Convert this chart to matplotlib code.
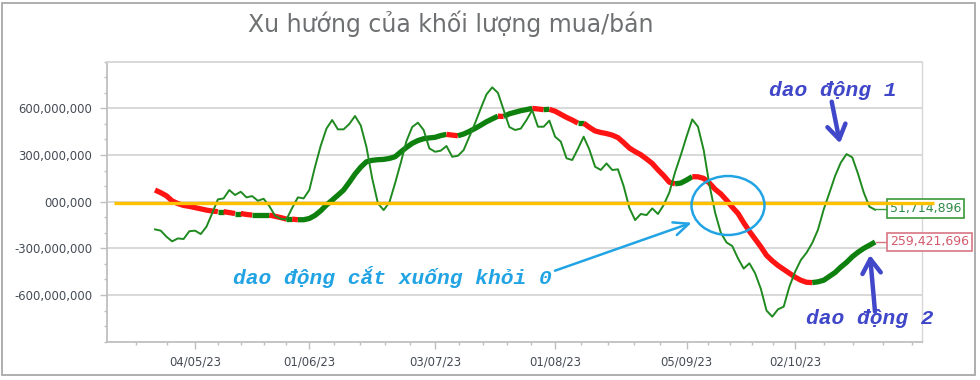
import numpy as np
import matplotlib
matplotlib.use("Agg")
import matplotlib.pyplot as plt
from matplotlib.patches import Ellipse, Rectangle
from matplotlib.lines import Line2D

# ---------------- data ----------------
title = "Xu hướng của khối lượng mua/bán"
tick_pos = [7, 27, 49, 70, 93, 112]
tick_labels = ["04/05/23", "01/06/23", "03/07/23", "01/08/23", "05/09/23", "02/10/23"]
y_ticks = [-600e6, -300e6, 0, 300e6, 600e6]
y_tick_labels = ["-600,000,000", "-300,000,000", "000,000", "300,000,000", "600,000,000"]

# oscillator (thin green), millions
oscillator_m = [
    -178, -186, -225, -255, -236, -240, -190, -186, -208, -161,
    -75, 15, 21, 75, 43, 64, 28, 36, 6, 19,
    -28, -90, -110, -114, -40, 28, 21, 75, 225, 360,
    470, 525, 465, 465, 500, 551, 490, 351, 150, -10,
    -54, -5, 118, 250, 390, 480, 508, 461, 343, 321,
    328, 358, 289, 295, 332, 418, 505, 600, 690, 735,
    700, 590, 480, 461, 470, 525, 589, 482, 482, 521,
    418, 386, 279, 268, 340, 418, 335, 225, 204, 246,
    204, 208, 100, -40, -118, -79, -86, -43, -79, -21,
    60, 190, 300, 418, 529, 482, 332, 110, -70, -200,
    -262, -285, -364, -430, -396, -460, -560, -700, -739, -692,
    -675, -546, -450, -375, -328, -265, -180, -50, 57, 166,
    252, 306, 285, 180, 60, -32, -52,
]
# trend (thick, coloured by direction), millions
trend_m = [
    75, 58, 38, 5, -12, -24, -30, -38, -46, -54,
    -60, -64, -64, -70, -76, -76, -82, -86, -86, -86,
    -86, -94, -102, -112, -112, -116, -116, -108, -88, -58,
    -21, 10, 42, 75, 125, 178, 222, 257, 266, 270,
    272, 278, 289, 320, 349, 375, 393, 405, 410, 414,
    425, 433, 428, 424, 435, 452, 471, 492, 514, 532,
    550, 548, 565, 575, 585, 592, 600, 596, 592, 594,
    582, 562, 542, 525, 505, 505, 478, 455, 445, 438,
    428, 412, 380, 345, 322, 302, 275, 246, 205, 168,
    125, 115, 120, 139, 161, 160, 150, 120, 80, 50,
    10, -35, -75, -135, -190, -240, -290, -345, -380, -410,
    -435, -460, -485, -505, -518, -520, -515, -505, -480, -455,
    -420, -390, -354, -325, -300, -280, -259,
]
last_osc_label = "51,714,896"
last_trend_label = "259,421,696"

# ---------------- styling ----------------
W, H = 980, 380
THIN_GREEN = "#1f8a1f"
THICK_GREEN = "#0d800d"
RED = "#ff1414"
YELLOW = "#ffc000"
LBLUE = "#22a4e4"
INDIGO = "#4047c8"
GRID = "#d6d6d6"
TICKC = "#bfbfbf"
LABELC = "#454b55"

def fx(px):
    return px / W

def fy(py):
    return 1 - py / H

fig = plt.figure(figsize=(W / 100, H / 100), dpi=100)
fig.patch.set_facecolor("white")

top_px, bot_px, left_px, right_px = 61.7, 341.7, 107, 922
ax = fig.add_axes([fx(left_px), fy(bot_px), (right_px - left_px) / W, (bot_px - top_px) / H])

x = np.arange(len(oscillator_m))
osc = np.array(oscillator_m) * 1e6
trend = np.array(trend_m) * 1e6

# thick trend line coloured by direction
rising = np.diff(trend) >= 0
start = 0
n = len(rising)
for k in range(1, n + 1):
    if k == n or rising[k] != rising[start]:
        seg = slice(start, k + 1)
        ax.plot(x[seg], trend[seg], color=THICK_GREEN if rising[start] else RED,
                lw=3.8, solid_capstyle="butt", solid_joinstyle="round", zorder=3)
        start = k

# thin oscillator line
ax.plot(x, osc, color=THIN_GREEN, lw=1.4, zorder=4, solid_joinstyle="round")

ax.set_xlim(-8.4, 134.2)
ax.set_ylim(-900e6, 900e6)

ax.set_yticks(y_ticks)
ax.set_yticklabels(y_tick_labels)
ax.set_yticks(np.arange(-900e6, 900e6 + 1, 100e6), minor=True)
ax.set_xticks(tick_pos)
ax.set_xticklabels(tick_labels)
minor_x = [-3.3, 2.1]
for a, b in zip(tick_pos[:-1], tick_pos[1:]):
    minor_x += list(np.linspace(a, b, 6)[1:-1])
minor_x += [117.1, 122.2, 127.3, 132.4]
ax.set_xticks(minor_x, minor=True)

ax.yaxis.grid(True, which="major", color=GRID, lw=1.3, zorder=0)
ax.set_axisbelow(True)
ax.tick_params(axis="both", which="major", direction="out", length=5, width=1,
               color=TICKC, labelcolor=LABELC, labelsize=8.4)
ax.tick_params(axis="both", which="minor", direction="out", length=2.5, width=1, color=TICKC)
ax.tick_params(axis="y", which="major", pad=5.5)
ax.tick_params(axis="x", which="major", pad=5)
for lab in ax.get_xticklabels() + ax.get_yticklabels():
    lab.set_family("DejaVu Sans")

for s in ["left", "bottom"]:
    ax.spines[s].set_color(TICKC)
    ax.spines[s].set_linewidth(1.3)
ax.spines["top"].set_color(GRID)
ax.spines["top"].set_linewidth(1.3)
ax.spines["right"].set_color(GRID)
ax.spines["right"].set_linewidth(1.0)

# title
fig.text(fx(451), fy(32), title, ha="center", va="baseline", fontsize=17,
         color="#6e7072", family="DejaVu Sans")

# value labels at the end of the series
fig.add_artist(Line2D([fx(875), fx(887)], [fy(208.5), fy(208.5)], color="#3a9a3a", lw=1.0, zorder=2))
fig.add_artist(Line2D([fx(876), fx(887)], [fy(242), fy(242)], color="#d87583", lw=1.0, zorder=2))
fig.text(fx(890), fy(208.5), last_osc_label, ha="left", va="center", fontsize=9,
         color="#2f8a45", family="DejaVu Sans", zorder=3,
         bbox=dict(boxstyle="square,pad=0.22", fc="white", ec="#3a9a3a", lw=1.2))
fig.text(fx(890), fy(242), last_trend_label, ha="left", va="center", fontsize=9,
         color="#d25a6c", family="DejaVu Sans", zorder=3,
         bbox=dict(boxstyle="square,pad=0.22", fc="white", ec="#d87583", lw=1.2))

# hand drawn yellow zero line
fig.add_artist(Line2D([fx(114), fx(934)], [fy(203), fy(203)], color=YELLOW, lw=2.4,
                      solid_capstyle="butt", zorder=5))

mono = ["Liberation Mono", "DejaVu Sans Mono"]
# light blue annotation
fig.text(fx(232.7), fy(277), "dao động cắt xuống khỏi 0", ha="left", va="center",
         fontsize=15.3, fontweight="bold", fontstyle="italic", family=mono, color=LBLUE, zorder=6)
ax.annotate("", xy=(691.7, H - 222.7), xycoords="figure pixels",
            xytext=(555, H - 270.7), textcoords="figure pixels",
            arrowprops=dict(arrowstyle="->,head_length=0.9,head_width=0.4", lw=1.8,
                            color=LBLUE, shrinkA=0, shrinkB=0, mutation_scale=12),
            zorder=6)
fig.add_artist(Ellipse((fx(728), fy(205.5)), 73 / W, 59 / H, transform=fig.transFigure,
                       fill=False, ec=LBLUE, lw=1.8, zorder=6))

# indigo annotations
fig.text(fx(769.3), fy(90), "dao động 1", ha="left", va="center",
         fontsize=15.3, fontweight="bold", fontstyle="italic", family=mono, color=INDIGO, zorder=6)
ax.annotate("", xy=(840, H - 143.3), xycoords="figure pixels",
            xytext=(831.7, H - 101.7), textcoords="figure pixels",
            arrowprops=dict(arrowstyle="->,head_length=0.85,head_width=0.55", lw=3.2,
                            color=INDIGO, shrinkA=0, shrinkB=0, mutation_scale=12),
            zorder=6)
fig.text(fx(806), fy(318), "dao động 2", ha="left", va="center",
         fontsize=15.3, fontweight="bold", fontstyle="italic", family=mono, color=INDIGO, zorder=6)
ax.annotate("", xy=(870, H - 255), xycoords="figure pixels",
            xytext=(875, H - 311.7), textcoords="figure pixels",
            arrowprops=dict(arrowstyle="->,head_length=0.85,head_width=0.55", lw=3.2,
                            color=INDIGO, shrinkA=0, shrinkB=0, mutation_scale=12),
            zorder=6)

# outer chart frame
fig.add_artist(Rectangle((fx(2), fy(375)), (975 - 2) / W, (375 - 3) / H, transform=fig.transFigure,
                         fill=False, ec="#a8a8a8", lw=1.3, zorder=1))

fig.savefig("out.png", dpi=100)
